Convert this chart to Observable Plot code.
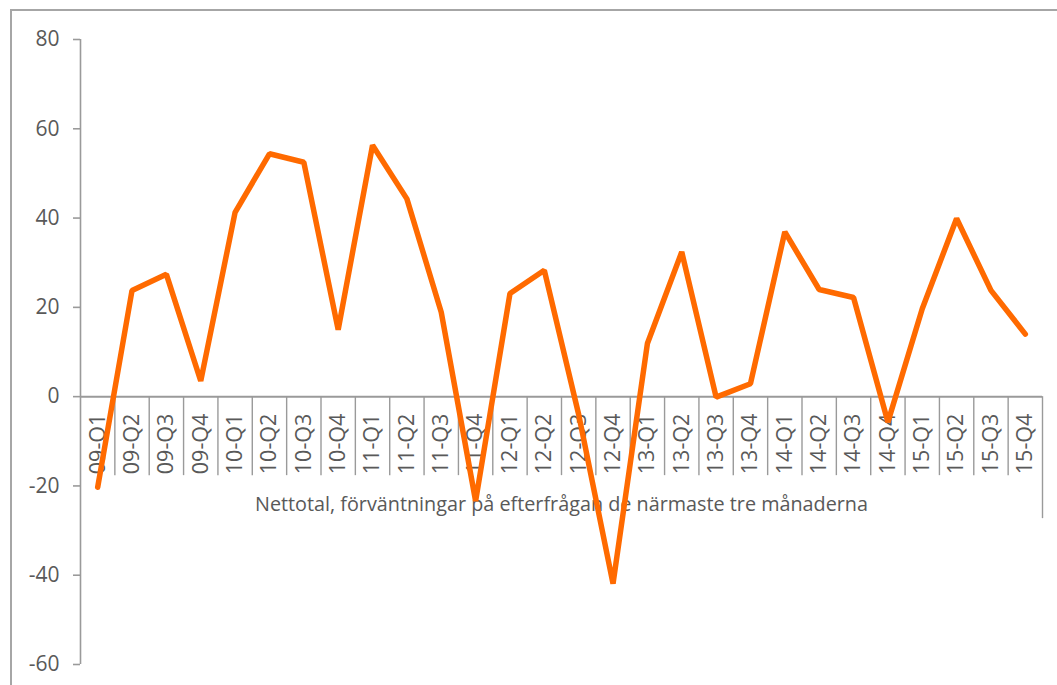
<!DOCTYPE html>
<html>
<head>
<meta charset="utf-8">
<script src="https://cdn.jsdelivr.net/npm/d3@7"></script>
<script src="https://cdn.jsdelivr.net/npm/@observablehq/plot@0.6"></script>
<style>
  html, body { margin: 0; padding: 0; background: #fff; overflow: hidden; }
  #wrap { position: relative; width: 1057px; height: 685px; }
  #border { position: absolute; left: 10px; top: 9px; width: 1200px; height: 800px; border: 2px solid #a6a6a6; box-sizing: border-box; }
  #chart { position: absolute; left: 0; top: 0; }
</style>
</head>
<body>
<div id="wrap"><div id="border"></div><div id="chart"></div></div>
<script>
const quarters = ["09-Q1","09-Q2","09-Q3","09-Q4","10-Q1","10-Q2","10-Q3","10-Q4",
  "11-Q1","11-Q2","11-Q3","11-Q4","12-Q1","12-Q2","12-Q3","12-Q4",
  "13-Q1","13-Q2","13-Q3","13-Q4","14-Q1","14-Q2","14-Q3","14-Q4",
  "15-Q1","15-Q2","15-Q3","15-Q4"];
const values = [-20.3, 23.8, 27.4, 3.5, 41.3, 54.4, 52.5, 15.0,
  56.3, 44.3, 18.9, -23.4, 23.1, 28.3, -4.0, -41.9,
  11.9, 32.4, -0.1, 2.9, 36.9, 24.0, 22.2, -5.7,
  19.7, 39.9, 23.8, 14.0];
const yTicks = [-60, -40, -20, 0, 20, 40, 60, 80];
const seriesLabel = "Nettotal, förväntningar på efterfrågan de närmaste tre månaderna";

const data = quarters.map((q, i) => ({q, i, mid: i + 0.5, v: values[i]}));
const edges = d3.range(0, quarters.length + 1);
const inner = edges.slice(1, -1);

const gray = "#9a9a9a";
const textGray = "#595959";
const font = "'Open Sans', 'DejaVu Sans', sans-serif";

const chart = Plot.plot({
  width: 1057,
  height: 685,
  marginLeft: 80,
  marginRight: 15,
  marginTop: 39,
  marginBottom: 21,
  style: {fontFamily: font, background: "transparent", overflow: "visible"},
  x: {domain: [0, quarters.length], axis: null},
  y: {domain: [-60, 80], ticks: yTicks, tickSize: 7, tickPadding: 15, label: null,
      tickFormat: d => String(d)},
  marks: [
    Plot.axisY({ticks: yTicks, tickSize: 7, tickPadding: 14, label: null, fontSize: 21,
      color: textGray, stroke: gray, strokeWidth: 1.6, strokeOpacity: 1, tickFormat: d => String(d)}),
    Plot.ruleX([0], {stroke: gray, strokeWidth: 1.6}),
    Plot.ruleY([0], {stroke: gray, strokeWidth: 2}),
    Plot.ruleX(inner, {x: d => d, y1: 0, y2: 0, insetBottom: -79, stroke: gray, strokeWidth: 1.4}),
    Plot.ruleX([quarters.length], {x: d => d, y1: 0, y2: 0, insetBottom: -122, stroke: gray, strokeWidth: 1.4}),
    Plot.text(data, {x: "mid", y: 0, text: "q", rotate: -90, textAnchor: "end", lineAnchor: "middle",
      dy: 17, fontSize: 21.5, fill: textGray}),
    Plot.text([seriesLabel], {y: [0], text: d => d, dy: 108, fontSize: 19.8, fill: textGray}),
    Plot.line(data, {x: "mid", y: "v", stroke: "#ff6a00", strokeWidth: 5.5,
      strokeLinejoin: "miter", strokeLinecap: "round"})
  ]
});
document.getElementById("chart").appendChild(chart);
</script>
</body>
</html>
